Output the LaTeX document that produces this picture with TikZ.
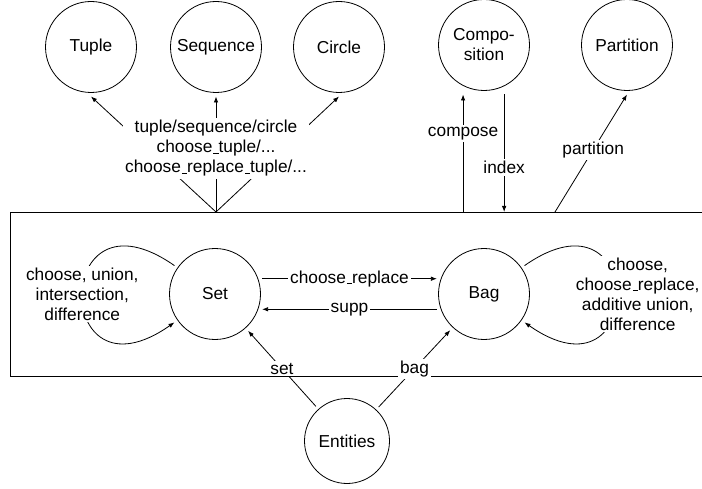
\documentclass[tikz,border=0pt]{standalone}
\usepackage{fontspec}
\setmainfont{Liberation Sans}
\usetikzlibrary{arrows.meta}

\newcommand{\usc}{\leavevmode\kern.06em\vbox{\hrule width.3em}}
\tikzset{
  state/.style={circle, draw, minimum size=91pt, inner sep=0pt, outer sep=4pt, align=center},
  lbl/.style={fill=white, inner sep=2pt, align=center},
}

\begin{document}
\begin{tikzpicture}[x=1pt, y=-1pt, line width=0.8pt, >={Latex[length=6pt,width=4.5pt]},
  every node/.style={font=\fontsize{17.3pt}{20pt}\selectfont}]
	\useasboundingbox (0,0) rectangle (702,489);
	\node[state] (Tuple) at (91,47) {Tuple};
	\node[state] (Seq) at (216,47) {Sequence};
	\node[state] (Circ) at (339,47) {Circle};
	\node[state] (Comp) at (484,45) {Compo-\\sition};
	\node[state] (Part) at (627,45) {Partition};
	\node[state] (Set) at (215,294) {Set};
	\node[state] (Bag) at (484,294) {Bag};
	\node[state, minimum size=85pt] (Ent) at (347,441) {Entities};
	\draw[->] (Ent) to node[lbl] {set} (Set);
	\node[draw, minimum width=700pt, minimum height=164pt, anchor=north west, outer sep=0pt] (box) at (10,212) {};
	\coordinate (pfoot) at (555,212);
	% box to the ordered structures
	\draw[->] (box.north -| Seq) -- (Tuple.south);
	\draw[->] (box.north -| Seq) -- (Circ.south);
	\draw[->] (box.north -| Seq) to node[lbl, pos=.55] {tuple/sequence/circle\\choose\usc tuple/...\\choose\usc replace\usc tuple/...} (Seq.south);
	\draw[->] (box.north -| Comp.245) to node[lbl, pos=.67] {compose} (Comp.245 |- Comp.south);
	\draw[->] (Comp.294 |- Comp.south) to node[lbl, pos=.62] {index} (box.north -| Comp.294);
	\draw[->] (pfoot) to node[lbl, pos=.53] {partition} (Part.south);
	% inside the box
	\draw[->] (Set.18) to node[lbl] {choose\usc replace} (Bag.162);
	\draw[->] (Bag.198) to node[lbl] {supp} (Set.342);
	\draw[->] (Set.145) .. controls +(145:150pt) and +(215:150pt) .. node[lbl] {choose, union,\\intersection,\\difference} (Set.215);
	\draw[->] (Bag.35) .. controls +(35:150pt) and +(-35:150pt) .. node[lbl, xshift=21pt] {choose,\\choose\usc replace,\\additive union,\\difference} (Bag.-35);
	\draw[->] (Ent) to node[lbl] {bag} (Bag);
\end{tikzpicture}
\end{document}
